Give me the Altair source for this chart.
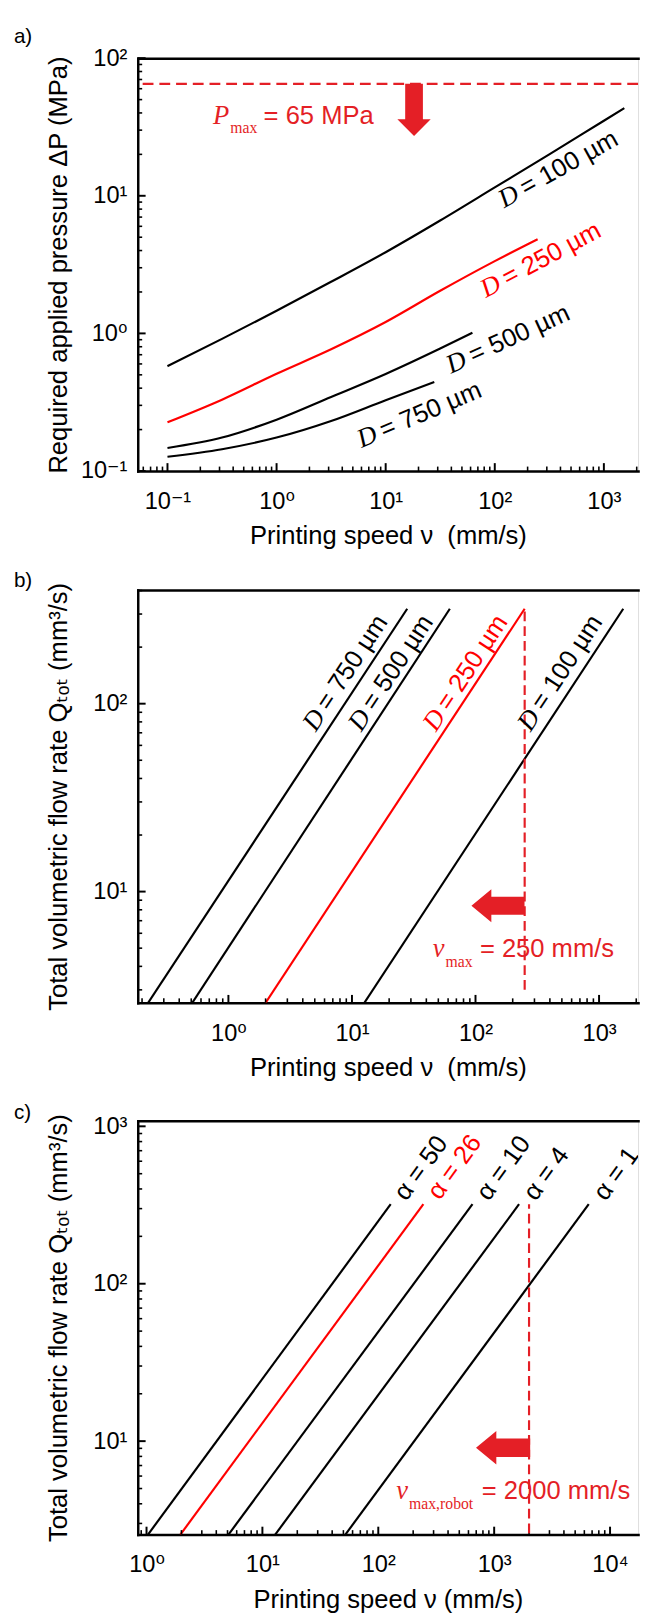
import math
import altair as alt
import pandas as pd

SANS = "Liberation Sans, Arial, DejaVu Sans, sans-serif"
SERIF = "Liberation Serif, Times New Roman, DejaVu Serif, serif"
BLACK = "#000000"
RED = "#ff0000"
ANN = "#e41f26"

PLOT_W = 509
H_A, H_B, H_C = 420, 420, 421

# ---------------- panel a : required pressure ----------------
A_D100_V = [0.1, 0.316, 1, 3.16, 10, 31.6, 100, 316, 1000, 1540]
A_D100_P = [0.578, 0.912, 1.46, 2.37, 3.89, 6.61, 11.5, 20.0, 35.1, 43.3]
A_D250_V = [0.1, 0.316, 1, 3.16, 10, 31.6, 100, 247]
A_D250_P = [0.226, 0.330, 0.509, 0.767, 1.21, 2.04, 3.35, 4.83]
A_D500_V = [0.1, 0.316, 1, 3.16, 10, 31.6, 62.4]
A_D500_P = [0.147, 0.175, 0.236, 0.345, 0.507, 0.776, 1.01]
A_D750_V = [0.1, 0.316, 1, 3.16, 10, 27.9]
A_D750_P = [0.127, 0.144, 0.175, 0.231, 0.327, 0.443]

A_LABEL_TEXT = ["= 100 µm", "= 250 µm", "= 500 µm", "= 750 µm"]
A_LABEL_COLOR = [BLACK, RED, BLACK, BLACK]
A_LABEL_V = [122, 83.2, 39.8, 6.0]
A_LABEL_P = [8.13, 1.81, 0.509, 0.147]
A_LABEL_ANGLE = [331, 332, 335.5, 337]

A_PMAX = [65]
A_NOTE_V = [0.368]
A_NOTE_P = [33.3]
A_NOTE_PARTS = ["P", "max", "= 65 MPa"]
A_ARROW_V = [18.2]
A_ARROW_P = [42.1]

A_X_DOMAIN = [0.0534, 2058]
A_Y_DOMAIN = [0.1, 100]
A_X_MAJOR = [0.1, 1, 10, 100, 1000]
A_Y_MAJOR = [0.1, 1, 10, 100]

# ---------------- panel b : flow rate vs speed for D ----------------
B_D750_V = [0.224, 28]
B_D500_V = [0.51, 62]
B_D250_V = [2.0, 250]
B_D100_V = [12.6, 1570]
B_LINE_Q = [2.56, 320]

B_LABEL_TEXT = ["= 750 µm", "= 500 µm", "= 250 µm", "= 100 µm"]
B_LABEL_COLOR = [BLACK, BLACK, RED, BLACK]
B_LABEL_V = [5.09, 11.9, 47.8, 279]
B_LABEL_Q = [70.2, 70.2, 70.2, 70.2]
B_LABEL_ANGLE = [303.3, 303.3, 303.3, 303.3]

B_VMAX = [250]
B_VMAX_Q = [3.0, 320]
B_NOTE_V = [56.1]
B_NOTE_Q = [4.50]
B_NOTE_PARTS = ["v", "max", "= 250 mm/s"]
B_ARROW_V = [152]
B_ARROW_Q = [8.4]

B_X_DOMAIN = [0.1846, 2069]
B_Y_DOMAIN = [2.56, 403]
B_X_MAJOR = [1, 10, 100, 1000]
B_Y_MAJOR = [10, 100]

# ---------------- panel c : flow rate vs speed for alpha ----------------
C_A50_V = [1.03, 128]
C_A26_V = [1.96, 245]
C_A10_V = [5.1, 650]
C_A4_V = [12.9, 1640]
C_A1_V = [52, 6550]
C_LINE_Q = [2.55, 320]

C_LABEL_TEXT = ["α = 50", "α = 26", "α = 10", "α = 4", "α = 1"]
C_LABEL_COLOR = [BLACK, RED, BLACK, BLACK, BLACK]
C_LABEL_V = [174, 340, 900, 2280, 9180]
C_LABEL_Q = [331, 335, 331, 331, 331]
C_LABEL_ANGLE = [306, 306, 306, 306, 306]

C_VMAX = [2000]
C_VMAX_Q = [2.6, 320]
C_NOTE_V = [180.7]
C_NOTE_Q = [4.30]
C_NOTE_PARTS = ["v", "max,robot", "= 2000 mm/s"]
C_ARROW_V = [1194]
C_ARROW_Q = [9.08]

C_X_DOMAIN = [0.840, 17450]
C_Y_DOMAIN = [2.55, 1085]
C_X_MAJOR = [1, 10, 100, 1000, 10000]
C_Y_MAJOR = [10, 100, 1000]

ARROW_DOWN = "M 0 1 L -0.64 0.36 L -0.34 0.36 L -0.34 -1 L 0.34 -1 L 0.34 0.36 L 0.64 0.36 Z"
ARROW_LEFT = "M -1 0 L -0.25 -0.62 L -0.25 -0.34 L 1 -0.34 L 1 0.34 L -0.25 0.34 L -0.25 0.62 Z"

MAJOR_TICK = 8
MINOR_TICK = 4.5

SUP = {-1: "⁻¹", 0: "⁰", 1: "¹", 2: "²", 3: "³", 4: "⁴"}


def pow_label_expr(values):
    parts = []
    for v in values[:-1]:
        e = round(math.log10(v))
        parts.append(f"datum.value < {v * 3.1623:.6g} ? '10{SUP[e]}' : ")
    e = round(math.log10(values[-1]))
    return "".join(parts) + f"'10{SUP[e]}'"


def minor_ticks(dom):
    lo, hi = dom
    out = []
    for e in range(-3, 6):
        for m in range(2, 10):
            t = float(f"{m * 10.0 ** e:.6g}")
            if lo <= t <= hi:
                out.append(t)
    return out


def style(**kw):
    base = dict(grid=False, labelFont=SANS, labelFontSize=24, labelColor=BLACK,
                titleFont=SANS, titleFontSize=26, titleFontWeight="normal", titleColor=BLACK,
                domainColor=BLACK, domainWidth=2.5, domainCap="square",
                labelFlush=False, labelOverlap=False)
    base.update(kw)
    return alt.Axis(**base)


def lines_df(series):
    rows = []
    for name, col, vs, qs in series:
        for i, (v, q) in enumerate(zip(vs, qs)):
            rows.append({"name": name, "col": col, "i": i, "v": v, "q": q})
    return pd.DataFrame(rows)


def panel(series, xdom, ydom, xmaj, ymaj, H, xtitle, ytitle,
          label_df, label_is_D, note_v, note_q, note_parts, note_dx, note_sub_dy,
          arrow_v, arrow_q, arrow_shape, arrow_size, dashed, tag, title_offset, smooth):
    xs = alt.Scale(type="log", domain=xdom, nice=False)
    ys = alt.Scale(type="log", domain=ydom, nice=False)
    df = lines_df(series)

    def X(axis=None):
        return alt.X("v:Q", scale=xs, axis=axis)

    def Y(axis=None, field="q:Q"):
        return alt.Y(field, scale=ys, axis=axis)

    ax_x_main = style(orient="bottom", values=xmaj, labelExpr=pow_label_expr(xmaj), ticks=False,
                      tickSize=0, labelPadding=19, title=xtitle, titlePadding=10)
    ax_y_main = style(orient="left", values=ymaj, labelExpr=pow_label_expr(ymaj), ticks=False,
                      tickSize=0, labelPadding=11, title=ytitle, titlePadding=7,
                      minExtent=60, maxExtent=60)
    ax_x_frame = style(orient="top", labels=False, ticks=False, tickSize=0, title=None,
                       minExtent=0, maxExtent=0)

    layers = []
    line_mark = alt.MarkDef(type="line", strokeWidth=2.2, clip=True,
                            interpolate="monotone" if smooth else "linear")
    layers.append(alt.Chart(df).mark_line(**line_mark.to_dict(exclude=["type"]) if False else {}).encode(
        x=X(ax_x_main), y=Y(ax_y_main)) if False else
        alt.Chart(df).mark_line(strokeWidth=2.2, clip=True,
                                interpolate="monotone" if smooth else "linear").encode(
            x=X(ax_x_main), y=Y(ax_y_main), color=alt.Color("col:N", scale=None),
            detail="name:N", order="i:Q"))
    corner = pd.DataFrame({"v": xdom, "q": ydom})
    layers.append(alt.Chart(corner).mark_point(opacity=0).encode(x=X(ax_x_frame), y=Y()))

    # inward ticks (positions from the scales, lengths as styles)
    xt = pd.DataFrame({"v": xmaj + minor_ticks(xdom),
                       "len": [MAJOR_TICK] * len(xmaj) + [MINOR_TICK] * len(minor_ticks(xdom))})
    yt = pd.DataFrame({"q": ymaj + minor_ticks(ydom),
                       "len": [MAJOR_TICK] * len(ymaj) + [MINOR_TICK] * len(minor_ticks(ydom))})
    xt_major = xt[xt["len"] == MAJOR_TICK]
    xt_minor = xt[xt["len"] == MINOR_TICK]
    yt_major = yt[yt["len"] == MAJOR_TICK]
    yt_minor = yt[yt["len"] == MINOR_TICK]
    layers.append(alt.Chart(xt_major).mark_rule(color=BLACK, strokeWidth=2).encode(
        x=X(), y=alt.value(H), y2=alt.value(H - MAJOR_TICK)))
    layers.append(alt.Chart(xt_minor).mark_rule(color=BLACK, strokeWidth=1.6).encode(
        x=X(), y=alt.value(H), y2=alt.value(H - MINOR_TICK)))
    layers.append(alt.Chart(yt_major).mark_rule(color=BLACK, strokeWidth=2).encode(
        y=Y(), x=alt.value(0), x2=alt.value(MAJOR_TICK)))
    layers.append(alt.Chart(yt_minor).mark_rule(color=BLACK, strokeWidth=1.6).encode(
        y=Y(), x=alt.value(0), x2=alt.value(MINOR_TICK)))

    # dashed limit line
    if dashed[0] == "h":
        layers.append(alt.Chart(pd.DataFrame({"q": dashed[1]})).mark_rule(
            color=ANN, strokeDash=[11, 6], strokeWidth=2.2).encode(y=Y()))
    else:
        ddf = pd.DataFrame({"v": dashed[1], "q": [dashed[2][0]], "q2": [dashed[2][1]]})
        layers.append(alt.Chart(ddf).mark_rule(
            color=ANN, strokeDash=[10, 5], strokeWidth=2.2).encode(x=X(), y=Y(), y2="q2:Q"))

    # arrow
    adf = pd.DataFrame({"v": arrow_v, "q": arrow_q})
    layers.append(alt.Chart(adf).mark_point(shape=arrow_shape, size=arrow_size, filled=True,
                                            opacity=1, color=ANN, strokeWidth=0).encode(x=X(), y=Y()))

    # annotation text  (italic letter, subscript, rest)
    ndf = pd.DataFrame({"v": note_v, "q": note_q})
    layers.append(alt.Chart(ndf).mark_text(font=SERIF, fontStyle="italic", fontSize=27, align="right",
                                           baseline="alphabetic", color=ANN).encode(
        x=X(), y=Y(), text=alt.value(note_parts[0])))
    layers.append(alt.Chart(ndf).mark_text(font=SERIF, fontSize=16, align="left", dx=1, dy=note_sub_dy,
                                           baseline="alphabetic", color=ANN).encode(
        x=X(), y=Y(), text=alt.value(note_parts[1])))
    layers.append(alt.Chart(ndf).mark_text(font=SANS, fontSize=26, align="left", dx=note_dx,
                                           baseline="alphabetic", color=ANN).encode(
        x=X(), y=Y(), text=alt.value(note_parts[2])))

    # line labels
    if label_is_D:
        layers.append(alt.Chart(label_df).mark_text(font=SERIF, fontStyle="italic", fontSize=27,
                                                    align="left", baseline="alphabetic").encode(
            x=X(), y=Y(), text=alt.value("D"), angle=alt.Angle("ang:Q", scale=None),
            color=alt.Color("col:N", scale=None)))
        layers.append(alt.Chart(label_df).mark_text(font=SANS, fontSize=26, align="left", dx=25,
                                                    baseline="alphabetic").encode(
            x=X(), y=Y(), text="txt:N", angle=alt.Angle("ang:Q", scale=None),
            color=alt.Color("col:N", scale=None)))
    else:
        layers.append(alt.Chart(label_df).mark_text(font=SANS, fontSize=26, align="left",
                                                    baseline="alphabetic", clip=True).encode(
            x=X(), y=Y(), text="txt:N", angle=alt.Angle("ang:Q", scale=None),
            color=alt.Color("col:N", scale=None)))

    return alt.layer(*layers).resolve_axis(x="independent", y="independent").properties(
        width=PLOT_W, height=H,
        title=alt.TitleParams(text=tag, anchor="start", frame="group", dx=-126, fontSize=21,
                              font=SANS, fontWeight="normal", color=BLACK, offset=title_offset))


a_labels = pd.DataFrame({"v": A_LABEL_V, "q": A_LABEL_P, "txt": A_LABEL_TEXT,
                         "ang": A_LABEL_ANGLE, "col": A_LABEL_COLOR})
b_labels = pd.DataFrame({"v": B_LABEL_V, "q": B_LABEL_Q, "txt": B_LABEL_TEXT,
                         "ang": B_LABEL_ANGLE, "col": B_LABEL_COLOR})
c_labels = pd.DataFrame({"v": C_LABEL_V, "q": C_LABEL_Q, "txt": C_LABEL_TEXT,
                         "ang": C_LABEL_ANGLE, "col": C_LABEL_COLOR})

chart_a = panel(
    [("D100", BLACK, A_D100_V, A_D100_P), ("D250", RED, A_D250_V, A_D250_P),
     ("D500", BLACK, A_D500_V, A_D500_P), ("D750", BLACK, A_D750_V, A_D750_P)],
    A_X_DOMAIN, A_Y_DOMAIN, A_X_MAJOR, A_Y_MAJOR, H_A,
    "Printing speed ν\u00a0 (mm/s)", "Required applied pressure ΔP (MPa)",
    a_labels, True, A_NOTE_V, A_NOTE_P, A_NOTE_PARTS, 35, 9,
    A_ARROW_V, A_ARROW_P, ARROW_DOWN, 2809, ("h", A_PMAX), "a)", -1, True)

chart_b = panel(
    [("D750", BLACK, B_D750_V, B_LINE_Q), ("D500", BLACK, B_D500_V, B_LINE_Q),
     ("D250", RED, B_D250_V, B_LINE_Q), ("D100", BLACK, B_D100_V, B_LINE_Q)],
    B_X_DOMAIN, B_Y_DOMAIN, B_X_MAJOR, B_Y_MAJOR, H_B,
    "Printing speed ν\u00a0 (mm/s)", "Total volumetric flow rate Qₜₒₜ (mm³/s)",
    b_labels, True, B_NOTE_V, B_NOTE_Q, B_NOTE_PARTS, 36, 10,
    B_ARROW_V, B_ARROW_Q, ARROW_LEFT, 2916, ("v", B_VMAX, B_VMAX_Q), "b)", -9, False)

chart_c = panel(
    [("a50", BLACK, C_A50_V, C_LINE_Q), ("a26", RED, C_A26_V, C_LINE_Q),
     ("a10", BLACK, C_A10_V, C_LINE_Q), ("a4", BLACK, C_A4_V, C_LINE_Q),
     ("a1", BLACK, C_A1_V, C_LINE_Q)],
    C_X_DOMAIN, C_Y_DOMAIN, C_X_MAJOR, C_Y_MAJOR, H_C,
    "Printing speed ν (mm/s)", "Total volumetric flow rate Qₜₒₜ (mm³/s)",
    c_labels, False, C_NOTE_V, C_NOTE_Q, C_NOTE_PARTS, 75, 10,
    C_ARROW_V, C_ARROW_Q, ARROW_LEFT, 3036, ("v", C_VMAX, C_VMAX_Q), "c)", -9, False)

chart = alt.vconcat(chart_a, chart_b, chart_c, spacing=20).properties(
    padding={"left": 5, "top": 4, "right": 0, "bottom": 0}
).configure_view(stroke=None).configure(font=SANS)

chart.save("out.html", embed_options={"renderer": "svg", "actions": False})
